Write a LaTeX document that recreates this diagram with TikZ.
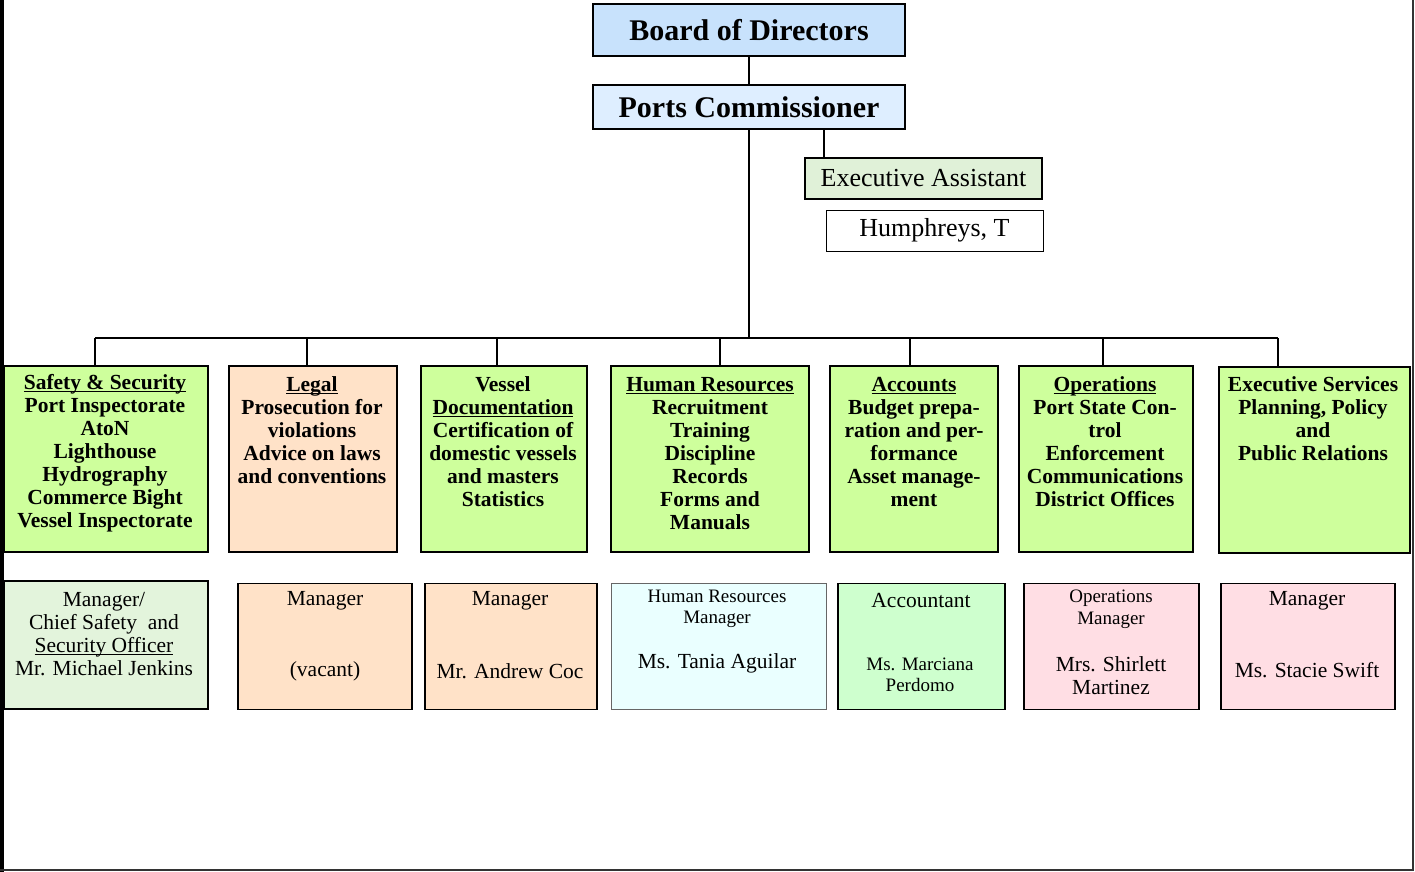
\documentclass[tikz,border=0pt]{standalone}
\usepackage{fontspec}
\setmainfont{Liberation Serif}
\usetikzlibrary{positioning}
\definecolor{boardblue}{RGB}{200,226,252}
\definecolor{portsblue}{RGB}{222,238,255}
\definecolor{eagreen}{RGB}{224,241,216}
\definecolor{deptgreen}{RGB}{206,255,156}
\definecolor{peach}{RGB}{255,226,200}
\definecolor{mgrgreen}{RGB}{227,244,220}
\definecolor{hrcyan}{RGB}{234,255,255}
\definecolor{acctgreen}{RGB}{206,255,206}
\definecolor{opspink}{RGB}{255,222,228}
\newcommand{\ul}[1]{\underline{\raisebox{0pt}[\height][0pt]{#1}}}

\begin{document}
\begin{tikzpicture}[x=1pt, y=-1pt, line width=1.6pt,
  box/.style={draw, inner sep=0pt, line width=1.8pt},
  head/.style={box, font=\fontsize{30}{34}\selectfont\bfseries},
  dept/.style={box, fill=deptgreen, minimum height=186pt},
  txt/.style={align=center, inner sep=0pt, font=\fontsize{21.5}{23}\selectfont\bfseries},
  staff/.style={box, minimum height=126pt},
  who/.style={align=center, inner sep=0pt, font=\fontsize{21.5}{23}\selectfont},
  small/.style={align=center, inner sep=0pt, font=\fontsize{19}{21.5}\selectfont}]
  \useasboundingbox (0,0) rectangle (1415,872);
  % frame
  \draw[line width=4pt] (2,0) -- (2,872);
  \draw[line width=2pt, black!80] (0,870) -- (1413,870) -- (1413,0);

  % top of the chart
  \node[head, fill=boardblue, minimum width=312pt, minimum height=52pt] (board) at (749,30) {Board of Directors};
  \node[head, fill=portsblue, minimum width=312pt, minimum height=44pt] (ports) at (749,107) {Ports Commissioner};
  \node[box, fill=eagreen, minimum width=237pt, minimum height=41pt, font=\fontsize{26}{30}\selectfont] (ea) at (923.5,178.5) {Executive Assistant};
  \node[box, fill=white, line width=1pt, minimum width=217pt, minimum height=41pt, font=\fontsize{26}{30}\selectfont] (hum) at (934.5,230.5) {Humphreys, T};

  % departments
  \node[dept, minimum width=204pt] (safety) at (106,459) {};
  \node[dept, fill=peach, minimum width=168pt] (legal) at (313,459) {};
  \node[dept, minimum width=166pt] (vessel) at (504,459) {};
  \node[dept, minimum width=198pt] (hr) at (710,459) {};
  \node[dept, minimum width=168pt] (accounts) at (914,459) {};
  \node[dept, minimum width=174pt] (ops) at (1106,459) {};
  \node[dept, minimum width=191pt] (exec) at (1314.5,460) {};

  \node[txt] (safetytxt) at (105,453.5) {\ul{Safety \& Security}\\Port Inspectorate\\AtoN\\Lighthouse\\Hydrography\\Commerce Bight\\Vessel Inspectorate};
  \node[txt] (legaltxt) at (312,430.5) {\ul{Legal}\\Prosecution for\\violations\\Advice on laws\\and conventions};
  \node[txt] (vesseltxt) at (503,442) {Vessel\\\ul{Documentation}\\Certification of\\domestic vessels\\and masters\\Statistics};
  \node[txt] (hrtxt) at (710,453.5) {\ul{Human Resources}\\Recruitment\\Training\\Discipline\\Records\\Forms and\\Manuals};
  \node[txt] (accountstxt) at (914,442) {\ul{Accounts}\\Budget prepa-\\ration and per-\\formance\\Asset manage-\\ment};
  \node[txt] (opstxt) at (1105,442) {\ul{Operations}\\Port State Con-\\trol\\Enforcement\\Communications\\District Offices};
  \node[txt] (exectxt) at (1313,418.5) {Executive Services\\Planning, Policy\\and\\Public Relations};

  % managers
  \node[staff, fill=mgrgreen, minimum width=204pt, minimum height=128pt] (safetymgr) at (106,645) {};
  \node[staff, fill=peach, minimum width=174pt] (legalmgr) at (325,646.5) {};
  \node[staff, fill=peach, minimum width=172pt] (vesselmgr) at (511,646.5) {};
  \node[staff, fill=hrcyan, draw=black!60, line width=1pt, minimum width=215pt] (hrmgr) at (718.5,646) {};
  \node[staff, fill=acctgreen, minimum width=167pt] (accountsmgr) at (921.5,646.5) {};
  \node[staff, fill=opspink, minimum width=175pt] (opsmgr) at (1111.5,646.5) {};
  \node[staff, fill=opspink, minimum width=174pt] (execmgr) at (1308,646.5) {};

  \node[who] (safetyname) at (104,634.5) {Manager/\\Chief Safety\ \ and\\\ul{Security Officer}\\Mr. Michael Jenkins};
  \node[who] (legalpost) at (325,601) {Manager};
  \node[who] (legalname) at (325,671) {(vacant)};
  \node[who] (vesselpost) at (510,601) {Manager};
  \node[who] (vesselname) at (510,671) {Mr. Andrew Coc};
  \node[small] (hrpost) at (717,609) {Human Resources\\Manager};
  \node[who] (hrname) at (717,663) {Ms. Tania Aguilar};
  \node[who] (accountspost) at (921,601) {Accountant};
  \node[small] (accountsname) at (920,675) {Ms. Marciana\\Perdomo};
  \node[small] (opspost) at (1111,609.5) {Operations\\Manager};
  \node[who] (opsname) at (1111,675.5) {Mrs. Shirlett\\Martinez};
  \node[who] (execpost) at (1307,601) {Manager};
  \node[who] (execname) at (1307,670) {Ms. Stacie Swift};

  % connectors
  \draw (board) -- (ports);
  \coordinate (bar) at (749,338);
  \draw (ports) -- (bar);
  \draw ([xshift=20pt]ea.north west |- ports.south) -- ([xshift=20pt]ea.north west);
  \foreach \x/\d in {95/safety, 307/legal, 497/vessel, 720/hr, 910/accounts, 1103/ops, 1278/exec}
    {\coordinate (b\d) at (\x,338);
     \draw (b\d) -- (b\d |- \d.north);}
  \draw (bsafety) -- (bexec);
\end{tikzpicture}
\end{document}
